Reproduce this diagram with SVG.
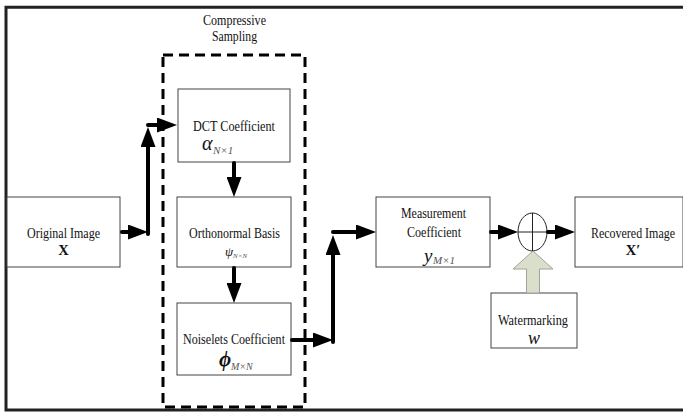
<svg xmlns="http://www.w3.org/2000/svg" width="683" height="412" viewBox="0 0 683 412" font-family="'Liberation Serif','Times New Roman',serif">
<style>
.box{fill:#fff;stroke:#444;stroke-width:1}
.t{font-family:"Liberation Serif","Times New Roman",serif;font-size:14.5px;fill:#111;text-anchor:middle}
.m{font-family:"Liberation Serif","Times New Roman",serif;font-style:italic;fill:#111}
.s{font-family:"Liberation Serif","Times New Roman",serif;font-style:italic;fill:#555}
.c{fill:none;stroke:#000;stroke-width:4;stroke-linecap:round}
</style>
<defs>
<marker id="ah" markerUnits="userSpaceOnUse" markerWidth="20" markerHeight="15" refX="10" refY="7.5" orient="auto">
<path d="M0,0 L20,7.5 L0,15 Z" fill="#000"/>
</marker>
</defs>
<rect width="683" height="412" fill="#fff"/>
<g id="frame" fill="none" stroke="#222" stroke-width="3">
<path d="M683,7.2 H6 V410 H683"/>
</g>
<g id="compressive-sampling">
<rect x="163" y="55" width="142" height="352" fill="none" stroke="#000" stroke-width="3" stroke-dasharray="10 6"/>
<text class="t" x="234.5" y="25" textLength="63" lengthAdjust="spacingAndGlyphs">Compressive</text>
<text class="t" x="234.5" y="41" textLength="45" lengthAdjust="spacingAndGlyphs">Sampling</text>
</g>
<g id="original">
<rect class="box" x="7" y="197" width="113" height="70"/>
<text class="t" x="63.5" y="238" textLength="73" lengthAdjust="spacingAndGlyphs">Original Image</text>
<text class="t" x="63.5" y="255" font-weight="bold">X</text>
</g>
<g id="dct">
<rect class="box" x="178" y="89" width="112" height="73"/>
<text class="t" x="234" y="131" textLength="82" lengthAdjust="spacingAndGlyphs">DCT Coefficient</text>
<text class="m" x="202" y="150" font-size="20">α</text>
<text class="s" x="213" y="154" font-size="11">N×1</text>
</g>
<g id="orthonormal">
<rect class="box" x="177" y="197" width="114" height="70"/>
<text class="t" x="234.5" y="238" textLength="91" lengthAdjust="spacingAndGlyphs">Orthonormal Basis</text>
<text class="m" x="225" y="256" font-size="13">ψ</text>
<text class="s" x="233" y="258" font-size="7">N×N</text>
</g>
<g id="noiselets">
<rect class="box" x="177" y="303" width="114" height="72"/>
<text class="t" x="234" y="344" textLength="102" lengthAdjust="spacingAndGlyphs">Noiselets Coefficient</text>
<text class="m" x="219" y="366" font-size="21" font-weight="bold">ϕ</text>
<text class="s" x="231" y="370" font-size="10">M×N</text>
</g>
<g id="measurement">
<rect class="box" x="376" y="197" width="114" height="70"/>
<text class="t" x="433.5" y="218" textLength="65" lengthAdjust="spacingAndGlyphs">Measurement</text>
<text class="t" x="434" y="237" textLength="54" lengthAdjust="spacingAndGlyphs">Coefficient</text>
<text class="m" x="424" y="262" font-size="19">y</text>
<text class="s" x="433" y="264" font-size="11">M×1</text>
</g>
<g id="sum">
<ellipse cx="532.5" cy="232" rx="14.5" ry="19" fill="#fff" stroke="#222" stroke-width="1"/>
<path d="M518,232 H547 M532.5,213 V251" stroke="#222" stroke-width="1"/>
</g>
<g id="recovered">
<rect class="box" x="575" y="197" width="108" height="70"/>
<text class="t" x="633" y="238" textLength="84" lengthAdjust="spacingAndGlyphs">Recovered Image</text>
<text class="t" x="633" y="255" font-weight="bold">X′</text>
</g>
<g id="watermarking">
<rect class="box" x="491" y="293" width="86" height="55"/>
<text class="t" x="533" y="325" textLength="70" lengthAdjust="spacingAndGlyphs">Watermarking</text>
<text class="m" x="534" y="344" font-size="18" text-anchor="middle">w</text>
</g>
<g id="connectors">
<path class="c" d="M122,232 H138" marker-end="url(#ah)"/>
<path class="c" d="M148,234 V137" marker-end="url(#ah)"/>
<path class="c" d="M148,125 H167" marker-end="url(#ah)"/>
<path class="c" d="M234,163 V187" marker-end="url(#ah)"/>
<path class="c" d="M234,268 V293" marker-end="url(#ah)"/>
<path class="c" d="M292,340 H323" marker-end="url(#ah)"/>
<path class="c" d="M333,342 V245" marker-end="url(#ah)"/>
<path class="c" d="M333,232 H366" marker-end="url(#ah)"/>
<path class="c" d="M491,232 H508" marker-end="url(#ah)"/>
<path class="c" d="M548,232 H565" marker-end="url(#ah)"/>
<path d="M526.5,293 V269 H513 L533,251 L553,269 H539.5 V293 Z" fill="#dadfcc" stroke="#a0a498" stroke-width="1"/>
</g>
</svg>
